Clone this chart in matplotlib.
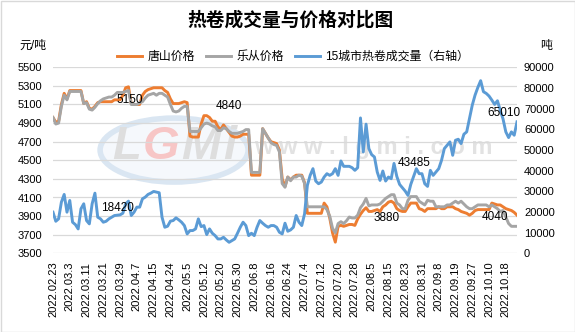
import matplotlib
matplotlib.use("Agg")
import numpy as np
import matplotlib.pyplot as plt
from matplotlib.patches import Ellipse, Rectangle

plt.rcParams["font.family"] = ["Liberation Sans", "Noto Sans CJK SC"]

# category axis: one label every 6 trading days
tick_labels = [
    "2022.02.23", "2022.03.3", "2022.03.11", "2022.03.21", "2022.03.29",
    "2022.04.7", "2022.04.15", "2022.04.24", "2022.05.5", "2022.05.12",
    "2022.05.20", "2022.05.30", "2022.06.8", "2022.06.16", "2022.06.24",
    "2022.07.4", "2022.07.12", "2022.07.20", "2022.07.28", "2022.08.5",
    "2022.08.15", "2022.08.23", "2022.08.31", "2022.09.8", "2022.09.19",
    "2022.09.27", "2022.10.10", "2022.10.18",
]
tick_step = 6

# 唐山价格 (元/吨)
tangshan = [
    4960, 4910, 4920, 5100, 5220, 5160, 5250, 5250, 5250, 5250,
    5250, 5110, 5130, 5060, 5050, 5080, 5120, 5130, 5130, 5130,
    5130, 5130, 5150, 5150, 5150, 5200, 5280, 5290, 5110, 5100,
    5100, 5100, 5200, 5240, 5260, 5270, 5280, 5280, 5280, 5280,
    5250, 5230, 5160, 5110, 5110, 5110, 5120, 5130, 5120, 4760,
    4750, 4750, 4750, 4890, 4980, 4980, 4960, 4920, 4920, 4860,
    4830, 4880, 4840, 4800, 4760, 4750, 4750, 4760, 4780, 4780,
    4780, 4340, 4340, 4340, 4340, 4840, 4790, 4740, 4700, 4690,
    4680, 4610, 4300, 4220, 4320, 4290, 4320, 4340, 4340, 4340,
    4260, 3930, 3930, 3930, 3930, 3930, 3930, 4040, 4000, 3880,
    3720, 3620, 3790, 3800, 3790, 3800, 3810, 3810, 3800, 3870,
    3920, 3960, 3990, 3950, 3950, 3960, 3970, 3950, 4000, 4020,
    4050, 4060, 4040, 3980, 3960, 3950, 3950, 4000, 4040, 4040,
    4040, 3980, 3970, 3950, 3980, 3980, 3980, 3980, 4000, 3980,
    3980, 4000, 4000, 4000, 3980, 3970, 3950, 3940, 3930, 3910,
    3930, 3960, 3970, 3970, 3970, 3970, 3970, 4040, 4030, 4020,
    4020, 4000, 3980, 3970, 3960, 3940, 3910,
]

# 乐从价格 (元/吨)
lecong = [
    4960, 4890, 4900, 5080, 5200, 5150, 5240, 5240, 5240, 5240,
    5240, 5110, 5120, 5050, 5040, 5070, 5110, 5140, 5160, 5170,
    5180, 5180, 5200, 5230, 5230, 5230, 5240, 5250, 5100, 5100,
    5100, 5120, 5130, 5170, 5200, 5210, 5220, 5200, 5220, 5220,
    5200, 5180, 5100, 5030, 5020, 5030, 5060, 5080, 5080, 4810,
    4810, 4810, 4810, 4850, 4890, 4900, 4890, 4870, 4860, 4820,
    4820, 4850, 4840, 4810, 4790, 4790, 4790, 4800, 4810, 4830,
    4830, 4370, 4370, 4370, 4370, 4840, 4790, 4740, 4690, 4670,
    4660, 4590, 4250, 4210, 4320, 4280, 4320, 4320, 4340, 4330,
    4250, 4000, 4000, 4000, 4000, 4000, 4000, 4000, 3970, 3900,
    3770, 3720, 3820, 3840, 3820, 3850, 3890, 3880, 3880, 3910,
    3990, 4030, 4090, 4010, 4020, 4020, 4020, 4030, 4060, 4090,
    4110, 4130, 4130, 4040, 4020, 3980, 3980, 4070, 4110, 4110,
    4110, 4060, 4040, 4020, 4070, 4060, 4060, 4000, 4000, 4000,
    4000, 4020, 4020, 4040, 4060, 4040, 4060, 4030, 4000, 3980,
    3980, 4000, 4020, 4020, 4020, 4020, 4000, 4020, 4000, 3980,
    3950, 3960, 3890, 3820, 3790, 3790, 3790,
]

# 15城市热卷成交量 (吨, 右轴)
volume = [
    19900, 15500, 16660, 24760, 28480, 19900, 25560, 15040, 13900, 11800,
    21520, 23950, 15850, 14230, 23950, 29100, 17470, 16660, 15040, 15500,
    16660, 17470, 18280, 18420, 18600, 19410, 23950, 25240, 18280, 19900,
    22330, 22330, 26370, 27180, 28480, 29120, 29930, 29610, 29290, 17470,
    12610, 13100, 15550, 15850, 17150, 16180, 15040, 13420, 9380, 11000,
    11000, 11800, 16660, 12900, 13420, 9050, 11800, 9700, 8560, 6950,
    6950, 7750, 6460, 5330, 6140, 6950, 9700, 12610, 15040, 13420,
    8560, 9700, 8560, 12610, 15850, 14560, 13420, 12610, 13420, 13420,
    12610, 10180, 9380, 14560, 10670, 11320, 12610, 18280, 15040, 13420,
    19090, 32850, 37710, 40950, 34960, 33660, 34470, 36900, 38520, 37710,
    38520, 40950, 37710, 44670, 42080, 42080, 42080, 41430, 40140, 41430,
    65500, 49040, 62500, 50660, 47740, 46610, 39330, 35280, 39810, 34960,
    36900, 36090, 43485, 37220, 33340, 31720, 30100, 28000, 33340, 37220,
    40950, 38520, 38520, 33660, 32370, 40140, 37710, 39330, 40950, 44990,
    50660, 52280, 53900, 47420, 54700, 55190, 53090, 57620, 58750, 65230,
    71700, 76560, 80290, 83520, 78180, 77370, 76080, 74130, 72030, 73810,
    69280, 65010, 58750, 56000, 58750, 57130, 63610,
]

# value labels: series, index, text offset in points
point_labels = [
    ("tangshan", 22, (11, 0)),
    ("tangshan", 62, (1.5, 16)),
    ("lecong", 107, (24.5, 0)),
    ("tangshan", 157, (2, -10)),
    ("volume", 23, (0, 5.5)),
    ("volume", 122, (14.5, 0)),
    ("volume", 161, (0.7, 4.5)),
]

ORANGE = "#ED7D31"
GRAY = "#A5A5A5"
BLUE = "#5B9BD5"
GRID = "#D9D9D9"

W, H = 575, 332
fig = plt.figure(figsize=(W / 100, H / 100), dpi=100)
ax = fig.add_axes([53 / W, 1 - 253.3 / H, 464 / W, 186 / H])
ax2 = ax.twinx()

# faint site watermark behind the data
ax.add_patch(Ellipse((0.261, 0.555), 0.319, 0.344, transform=ax.transAxes,
                     facecolor="#F5F8FC", edgecolor="#DAE6F2", lw=4, zorder=0))
for ch, cx, col in [("L", 0.159, "#DEDEDE"), ("G", 0.233, "#F7C6C6"),
                    ("M", 0.318, "#DEDEDE"), ("i", 0.381, "#DEDEDE")]:
    ax.text(cx, 0.571, ch, transform=ax.transAxes, fontsize=34,
            fontweight="bold", style="italic", color=col, ha="center",
            va="center", zorder=0.5)
ax.text(0.69, 0.57, "w w w . l g m i . c o m", transform=ax.transAxes,
        fontsize=17, fontweight="bold", color="#E2E2E2", ha="center",
        va="center", zorder=0.5)

x = np.arange(len(tangshan))
ax.plot(x, tangshan, color=ORANGE, lw=2.1, label="唐山价格", zorder=3)
ax.plot(x, lecong, color=GRAY, lw=2.1, label="乐从价格", zorder=4)
ax2.plot(x, volume, color=BLUE, lw=2.1, label="15城市热卷成交量（右轴）")

ax.set_xlim(0, len(x) - 1)
ax.set_ylim(3500, 5500)
ax.set_yticks(np.arange(3500, 5501, 200))
ax.grid(axis="y", color=GRID, lw=0.9)
ax.set_axisbelow(True)
ax.set_xticks(np.arange(len(tick_labels)) * tick_step)
ax.set_xticklabels(tick_labels, rotation=90, fontsize=8)
ax.tick_params(axis="x", length=0, pad=6)
ax.tick_params(axis="y", length=0, pad=8, labelsize=8)

ax2.set_ylim(0, 90000)
ax2.set_yticks(np.arange(0, 90001, 10000))
ax2.tick_params(axis="y", length=0, pad=5, labelsize=8)

for a in (ax, ax2):
    for s in a.spines.values():
        s.set_visible(False)

series = {"tangshan": (ax, tangshan), "lecong": (ax, lecong), "volume": (ax2, volume)}
for name, i, off in point_labels:
    target, vals = series[name]
    target.annotate(f"{vals[i]}", xy=(i, vals[i]), xytext=off,
                    textcoords="offset points", ha="center", va="center",
                    fontsize=8.5, color="black", zorder=6)

fig.text(290 / W, 1 - 20 / H, "热卷成交量与价格对比图", ha="center", va="center",
         fontsize=13.5, fontweight="bold", family=["Noto Sans CJK SC"])
fig.text(33 / W, 1 - 46 / H, "元/吨", ha="center", va="center", fontsize=8.6)
fig.text(546 / W, 1 - 46 / H, "吨", ha="center", va="center", fontsize=8.6)

h1, l1 = ax.get_legend_handles_labels()
h2, l2 = ax2.get_legend_handles_labels()
fig.legend(h1 + h2, l1 + l2, loc="center", bbox_to_anchor=(293 / W, 1 - 57 / H),
           ncol=3, frameon=False, fontsize=8.6, handlelength=2.1,
           handletextpad=0.45, columnspacing=0.9)

fig.patches.append(Rectangle((0.5 / W, 0.5 / H), 1 - 1 / W, 1 - 1 / H,
                             transform=fig.transFigure, fill=False,
                             edgecolor="#D9D9D9", lw=1))

fig.savefig("out.png", dpi=100)
